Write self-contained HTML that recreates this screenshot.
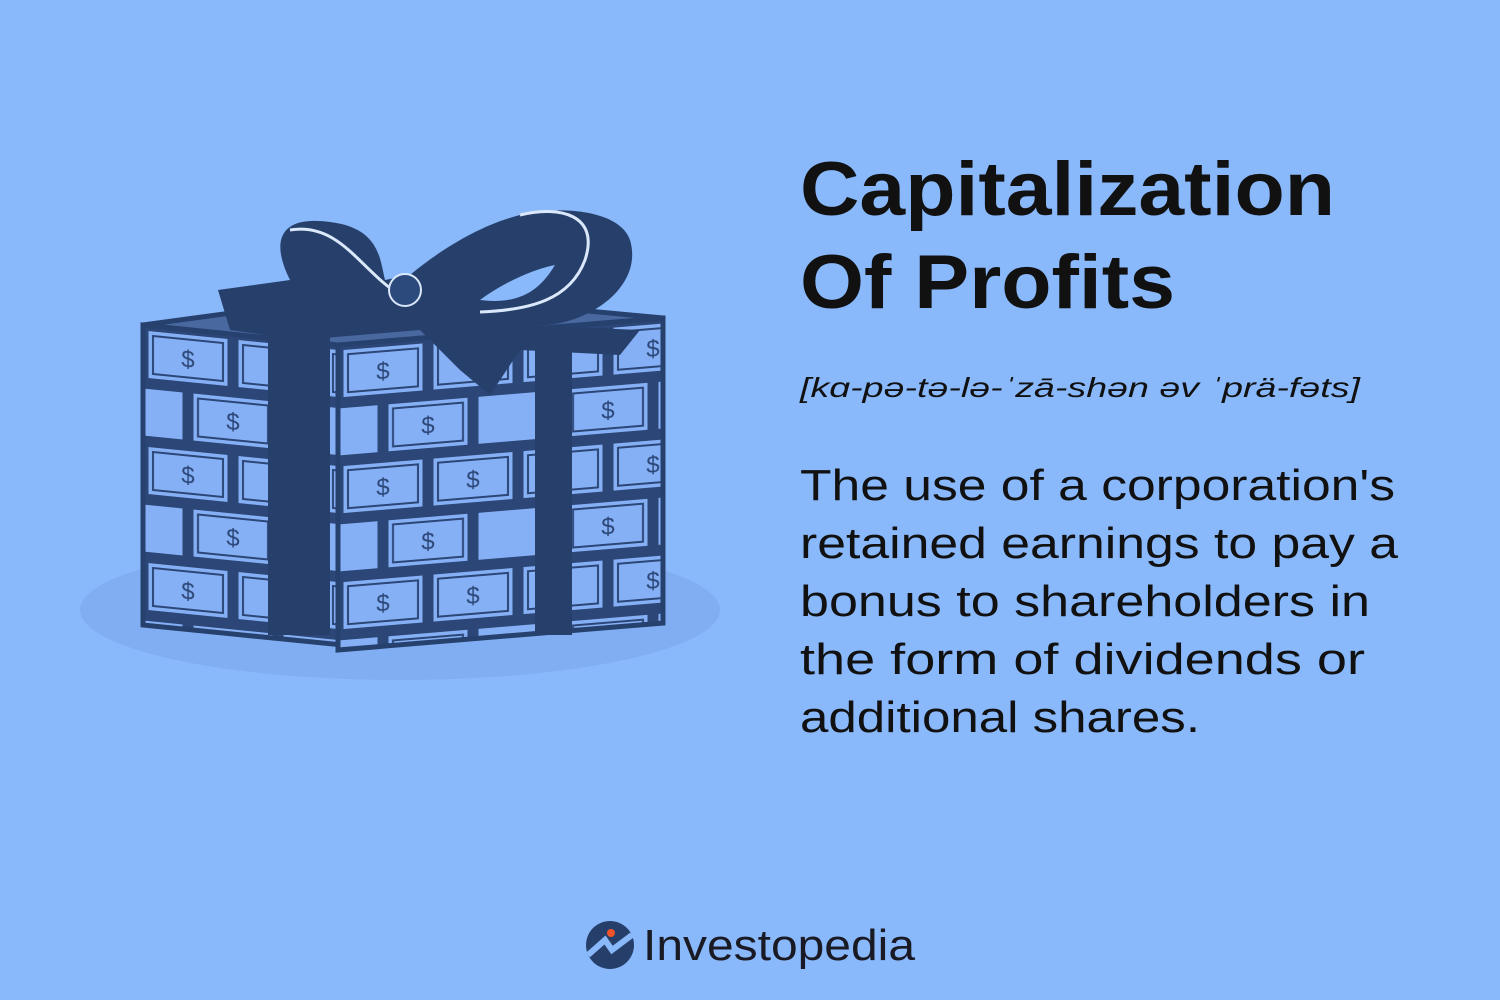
<!DOCTYPE html>
<html><head><meta charset="utf-8"><style>
html,body{margin:0;padding:0;background:#89b8fb;}
svg{display:block}
</style></head><body>
<svg width="1500" height="1000" viewBox="0 0 1500 1000">
<defs>
 <pattern id="brickpat" patternUnits="userSpaceOnUse" width="180" height="116">
  <rect width="180" height="116" fill="#2b4677"/>
  <g fill="#86b0f5" stroke="#2b4677" stroke-width="3">
   <rect x="4" y="4" width="82" height="50"/>
   <rect x="94" y="4" width="82" height="50"/>
   <rect x="-41" y="62" width="82" height="50"/>
   <rect x="49" y="62" width="82" height="50"/>
   <rect x="139" y="62" width="82" height="50"/>
  </g>
  <g fill="none" stroke="#2b4677" stroke-width="2">
   <rect x="10" y="10" width="70" height="38"/>
   <rect x="100" y="10" width="70" height="38"/>
   <rect x="55" y="68" width="70" height="38"/>
  </g>
  <g font-family="Liberation Sans, sans-serif" font-size="24" fill="#2b4677" text-anchor="middle">
   <text x="45" y="38">$</text><text x="135" y="38">$</text><text x="90" y="96">$</text>
  </g>
 </pattern>
</defs>
<rect width="1500" height="1000" fill="#89b8fb"/>
<ellipse cx="400" cy="610" rx="320" ry="70" fill="#7eaaf0" opacity="0.7"/>
<g>
 <g transform="matrix(1,0.1,0,1,143,325)">
  <rect x="0" y="0" width="195" height="300" fill="url(#brickpat)" stroke="#26416e" stroke-width="5"/>
 </g>
 <g transform="matrix(1,-0.083,0,1,338,345)">
  <rect x="0" y="0" width="325" height="305" fill="url(#brickpat)" stroke="#26416e" stroke-width="5"/>
 </g>
 <polygon points="143,325 290,305 470,300 663,318 338,345" fill="#4a68a0" stroke="#26416e" stroke-width="5"/>
 <rect x="268" y="335" width="62" height="300" fill="#26406b"/>
 <rect x="535" y="333" width="37" height="302" fill="#26406b"/>
 <g fill="#26406b">
  <path d="M218,290 L290,280 C270,240 280,215 330,222 C380,228 380,260 385,280 L410,275 C440,250 480,225 520,215 C560,205 620,210 630,240 C645,290 580,330 530,325 L640,330 L620,355 L520,350 L490,395 L460,370 L420,330 L300,340 L230,330 Z"/>
  <path d="M480,300 C500,285 530,270 555,265 C540,290 520,305 480,300Z" fill="#89b8fb"/>
  <path d="M290,230 C340,222 360,270 400,295" stroke="#dbe8fb" stroke-width="3" fill="none"/>
  <path d="M520,215 C560,205 600,215 585,260 C570,300 530,310 480,312" stroke="#dbe8fb" stroke-width="3" fill="none"/>
  <circle cx="405" cy="290" r="16" fill="#2c4a7b" stroke="#dbe8fb" stroke-width="2"/>
 </g>
</g>
<g font-family="Liberation Sans, sans-serif" fill="#111">
 <text x="800" y="215" font-size="76" font-weight="bold" textLength="535" lengthAdjust="spacingAndGlyphs">Capitalization</text>
 <text x="800" y="308" font-size="76" font-weight="bold" textLength="375" lengthAdjust="spacingAndGlyphs">Of Profits</text>
 <text x="800" y="397" font-size="28" font-style="italic" textLength="560" lengthAdjust="spacingAndGlyphs">[kɑ-pə-tə-lə-ˈzā-shən əv ˈprä-fəts]</text>
 <g font-size="44">
  <text x="800" y="500" textLength="595" lengthAdjust="spacingAndGlyphs">The use of a corporation's</text>
  <text x="800" y="558" textLength="598" lengthAdjust="spacingAndGlyphs">retained earnings to pay a</text>
  <text x="800" y="616" textLength="570" lengthAdjust="spacingAndGlyphs">bonus to shareholders in</text>
  <text x="800" y="674" textLength="565" lengthAdjust="spacingAndGlyphs">the form of dividends or</text>
  <text x="800" y="732" textLength="400" lengthAdjust="spacingAndGlyphs">additional shares.</text>
 </g>
</g>
<g>
 <circle cx="610" cy="945" r="24" fill="#263f6a"/>
 <path d="M588,955 L605,940 L612,950 L632,935" stroke="#89b8fb" stroke-width="6" fill="none"/>
 <circle cx="611" cy="933" r="4" fill="#f0542c"/>
 <text x="643" y="960" font-family="Liberation Sans, sans-serif" font-size="44" fill="#1a1a24" textLength="272" lengthAdjust="spacingAndGlyphs">Investopedia</text>
</g>
</svg>
</body></html>
